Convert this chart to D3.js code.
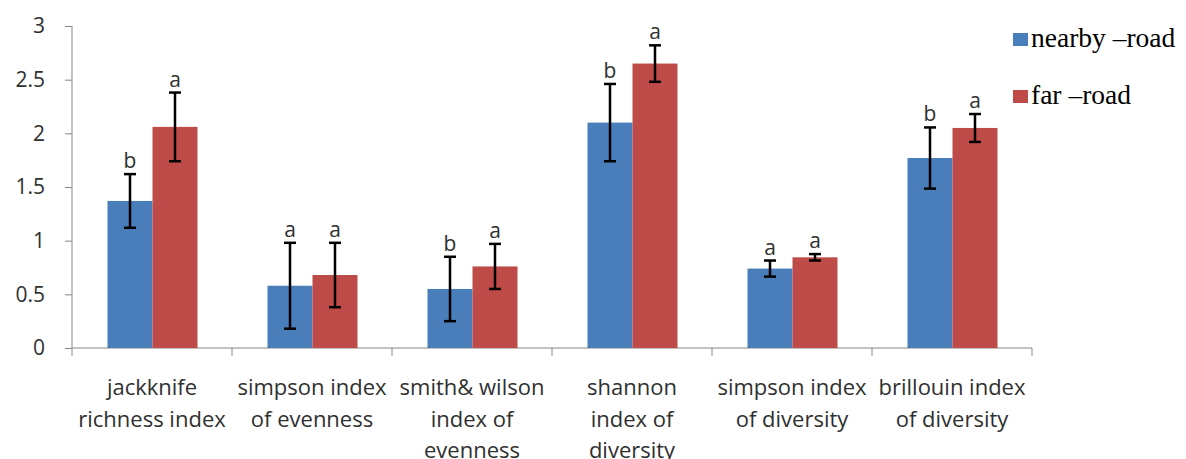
<!DOCTYPE html>
<html>
<head>
<meta charset="utf-8">
<script src="https://cdn.jsdelivr.net/npm/d3@7"></script>
<style>
  body { margin: 0; background: #fff; }
  svg text { font-family: "Open Sans", Lato, sans-serif; }
</style>
</head>
<body>
<div id="chart"></div>
<script>
// chart data
const categories = [
    ['jackknife', 'richness index'],
    ['simpson index', 'of evenness'],
    ['smith& wilson', 'index of', 'evenness'],
    ['shannon', 'index of', 'diversity'],
    ['simpson index', 'of diversity'],
    ['brillouin index', 'of diversity']
];
const seriesNames = ['nearby \u2013road', 'far \u2013road'];
const nearbyValues = [1.37, 0.58, 0.55, 2.10, 0.74, 1.77];
const nearbyErrors = [0.25, 0.40, 0.30, 0.36, 0.075, 0.285];
const nearbyLetters = ['b', 'a', 'b', 'b', 'a', 'b'];
const farValues = [2.06, 0.68, 0.76, 2.65, 0.845, 2.05];
const farErrors = [0.32, 0.30, 0.21, 0.17, 0.03, 0.13];
const farLetters = ['a', 'a', 'a', 'a', 'a', 'a'];
const yTicks = [0, 0.5, 1, 1.5, 2, 2.5, 3];

const colors = ['#4A7EBB', '#BE4B48'];
const width = 1186, height = 459;
const axisColor = '#868686';
const textColor = '#303030';

const svg = d3.select('#chart').append('svg')
    .attr('width', width)
    .attr('height', height);

// scales
const x0 = d3.scaleBand()
    .domain(d3.range(categories.length))
    .range([72, 1032]);

const x1 = d3.scaleBand()
    .domain([0, 1])
    .range([35.5, 125.5]);

const y = d3.scaleLinear()
    .domain([0, 3])
    .range([348, 26]);

// y axis
const yAxis = svg.append('g')
    .attr('transform', 'translate(72,0)')
    .call(d3.axisLeft(y).tickValues(yTicks).tickSize(7).tickPadding(20)
        .tickFormat(d3.format('')));
yAxis.selectAll('line, path').attr('stroke', axisColor);
yAxis.select('.domain').attr('d', `M0,${y(3)}V${y(0)}`);
yAxis.selectAll('text')
    .attr('font-size', 21)
    .attr('fill', textColor)
    .style('font-family', '"Open Sans", sans-serif');

// x axis with ticks at category boundaries
const xAxis = svg.append('g');
xAxis.append('line')
    .attr('x1', 72).attr('x2', 1032)
    .attr('y1', y(0)).attr('y2', y(0))
    .attr('stroke', axisColor);
const bounds = d3.range(categories.length + 1).map(i =>
    i < categories.length ? x0(i) : x0(i - 1) + x0.bandwidth());
xAxis.selectAll('.xtick')
    .data(bounds)
    .enter().append('line')
    .attr('x1', d => d).attr('x2', d => d)
    .attr('y1', y(0)).attr('y2', y(0) + 8)
    .attr('stroke', axisColor);

// category labels
const labels = svg.append('g').selectAll('text')
    .data(categories)
    .enter().append('text')
    .attr('text-anchor', 'middle')
    .attr('font-size', 22)
    .attr('fill', textColor)
    .attr('transform', (d, i) => `translate(${x0(i) + x0.bandwidth() / 2},395)`);
labels.selectAll('tspan')
    .data(d => d)
    .enter().append('tspan')
    .attr('x', 0)
    .attr('y', (d, i) => i * 31.5)
    .text(d => d);

// bars
const rows = categories.map((c, i) => [
    { s: 0, v: nearbyValues[i], e: nearbyErrors[i], l: nearbyLetters[i] },
    { s: 1, v: farValues[i], e: farErrors[i], l: farLetters[i] }
]);

const groups = svg.append('g').selectAll('g')
    .data(rows)
    .enter().append('g')
    .attr('transform', (d, i) => `translate(${x0(i)},0)`);

groups.selectAll('rect')
    .data(d => d)
    .enter().append('rect')
    .attr('x', d => x1(d.s))
    .attr('width', x1.bandwidth())
    .attr('y', d => y(d.v))
    .attr('height', d => y(0) - y(d.v))
    .attr('fill', d => colors[d.s]);

// error bars
const cap = 6;
const err = groups.selectAll('.err')
    .data(d => d)
    .enter().append('g')
    .attr('stroke', '#000')
    .attr('stroke-width', 2.5);
err.append('line')
    .attr('x1', d => x1(d.s) + x1.bandwidth() / 2)
    .attr('x2', d => x1(d.s) + x1.bandwidth() / 2)
    .attr('y1', d => y(d.v + d.e))
    .attr('y2', d => y(d.v - d.e));
err.append('line')
    .attr('x1', d => x1(d.s) + x1.bandwidth() / 2 - cap)
    .attr('x2', d => x1(d.s) + x1.bandwidth() / 2 + cap)
    .attr('y1', d => y(d.v + d.e))
    .attr('y2', d => y(d.v + d.e));
err.append('line')
    .attr('x1', d => x1(d.s) + x1.bandwidth() / 2 - cap)
    .attr('x2', d => x1(d.s) + x1.bandwidth() / 2 + cap)
    .attr('y1', d => y(d.v - d.e))
    .attr('y2', d => y(d.v - d.e));

// significance letters
groups.selectAll('.letter')
    .data(d => d)
    .enter().append('text')
    .attr('x', d => x1(d.s) + x1.bandwidth() / 2)
    .attr('y', d => y(d.v + d.e) - 6)
    .attr('text-anchor', 'middle')
    .attr('font-size', 21)
    .attr('fill', textColor)
    .text(d => d.l);

// legend
const legend = svg.append('g').selectAll('g')
    .data(seriesNames)
    .enter().append('g')
    .attr('transform', (d, i) => `translate(1013,${33 + i * 57})`);
legend.append('rect')
    .attr('width', 15).attr('height', 13)
    .attr('fill', (d, i) => colors[i]);
legend.append('text')
    .attr('x', 18)
    .attr('y', 14)
    .attr('font-size', 27.5)
    .style('font-family', '"Liberation Serif", "Times New Roman", serif')
    .attr('fill', '#000')
    .text(d => d);
</script>
</body>
</html>
